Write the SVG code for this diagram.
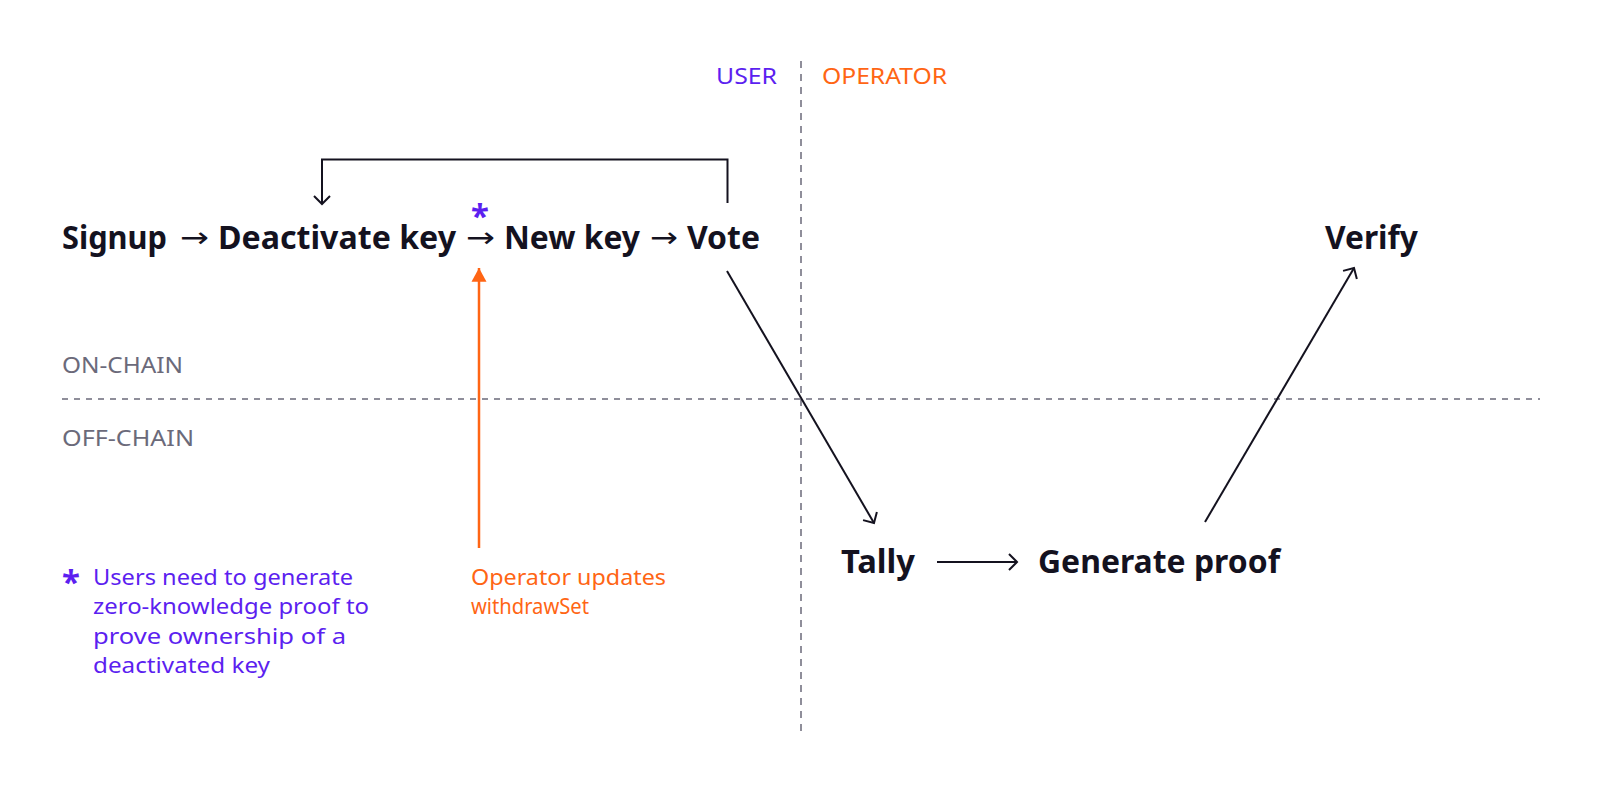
<svg xmlns="http://www.w3.org/2000/svg" width="1600" height="800" viewBox="0 0 1600 800">
<defs>
<style>
.node{font-family:"Noto Sans","Inter",sans-serif;font-weight:700;font-size:33px;fill:#14121f}
.arr{font-family:"DejaVu Sans",sans-serif;font-size:28px;fill:#14121f}
.lbl{font-family:"Noto Sans","Inter",sans-serif;font-size:21px;fill:#6b6a7a}
.purple{fill:#5c1ff0}
.orange{fill:#ff6514}
.note{font-family:"Noto Sans","Inter",sans-serif;font-size:22px}
.conn{stroke:#14121f;stroke-width:2;fill:none}
.dash{stroke:#6b6a7a;stroke-width:1.5;fill:none}
</style>
<marker id="open" markerUnits="userSpaceOnUse" markerWidth="20" markerHeight="20" viewBox="-10 -10 20 20" refX="0" refY="0" orient="auto">
<path d="M-8,-8 L0,0 L-8,8" fill="none" stroke="#14121f" stroke-width="2"/>
</marker>
<marker id="tri" markerUnits="userSpaceOnUse" markerWidth="20" markerHeight="20" viewBox="-12 -8 14 16" refX="0" refY="0" orient="auto">
<path d="M-11,-6 L0,0 L-11,6 Z" fill="#ff6514"/>
</marker>
</defs>
<rect width="1600" height="800" fill="#ffffff"/>

<g id="dividers">
<line class="dash" x1="801" y1="61" x2="801" y2="737" stroke-dasharray="7 6"/>
<line class="dash" x1="62" y1="399" x2="1540" y2="399" stroke-dasharray="6 6"/>
</g>

<g id="lane-labels">
<text x="716" y="84" class="lbl purple" textLength="61" lengthAdjust="spacingAndGlyphs">USER</text>
<text x="822" y="84" class="lbl orange" textLength="125" lengthAdjust="spacingAndGlyphs">OPERATOR</text>
<text x="62" y="373" class="lbl" textLength="121" lengthAdjust="spacingAndGlyphs">ON-CHAIN</text>
<text x="62" y="446" class="lbl" textLength="132" lengthAdjust="spacingAndGlyphs">OFF-CHAIN</text>
</g>

<g id="connectors">
<path class="conn" d="M727.5 203 V159.5 H322 V204" marker-end="url(#open)"/>
<line class="conn" x1="727" y1="271" x2="874" y2="523" marker-end="url(#open)"/>
<line class="conn" x1="937" y1="562" x2="1017" y2="562" marker-end="url(#open)"/>
<line class="conn" x1="1205" y1="522" x2="1354" y2="268" marker-end="url(#open)"/>
<line x1="479" y1="548" x2="479" y2="268" stroke="#ff6514" stroke-width="2.5" marker-end="url(#tri)"/>
</g>

<g id="signup"><text class="node" x="62" y="249" textLength="105" lengthAdjust="spacingAndGlyphs">Signup</text></g>
<text class="arr" x="180" y="247" textLength="29" lengthAdjust="spacingAndGlyphs">→</text>
<g id="deactivate-key"><text class="node" x="218" y="249" textLength="238" lengthAdjust="spacingAndGlyphs">Deactivate key</text></g>
<text class="arr" x="466" y="247" textLength="29" lengthAdjust="spacingAndGlyphs">→</text>
<g id="new-key"><text class="node" x="504" y="249" textLength="136" lengthAdjust="spacingAndGlyphs">New key</text></g>
<text class="arr" x="650" y="247" textLength="28" lengthAdjust="spacingAndGlyphs">→</text>
<g id="vote"><text class="node" x="687" y="249" textLength="73" lengthAdjust="spacingAndGlyphs">Vote</text></g>
<g id="zk-mark"><text x="480" y="228" text-anchor="middle" class="node purple" font-size="34">*</text></g>

<g id="verify"><text class="node" x="1325" y="249" textLength="93" lengthAdjust="spacingAndGlyphs">Verify</text></g>
<g id="tally"><text class="node" x="841" y="573" textLength="74" lengthAdjust="spacingAndGlyphs">Tally</text></g>
<g id="generate-proof"><text class="node" x="1038" y="573" textLength="242" lengthAdjust="spacingAndGlyphs">Generate proof</text></g>

<g id="operator-note" class="note orange">
<text x="471" y="585" textLength="195" lengthAdjust="spacingAndGlyphs">Operator updates</text>
<text x="471" y="614" textLength="118" lengthAdjust="spacingAndGlyphs">withdrawSet</text>
</g>

<g id="footnote" class="note purple">
<text x="71" y="594" text-anchor="middle" class="node purple" font-size="34">*</text>
<text x="93" y="585" textLength="260" lengthAdjust="spacingAndGlyphs">Users need to generate</text>
<text x="93" y="614" textLength="276" lengthAdjust="spacingAndGlyphs">zero-knowledge proof to</text>
<text x="93" y="644" textLength="253" lengthAdjust="spacingAndGlyphs">prove ownership of a</text>
<text x="93" y="673" textLength="177" lengthAdjust="spacingAndGlyphs">deactivated key</text>
</g>
</svg>
